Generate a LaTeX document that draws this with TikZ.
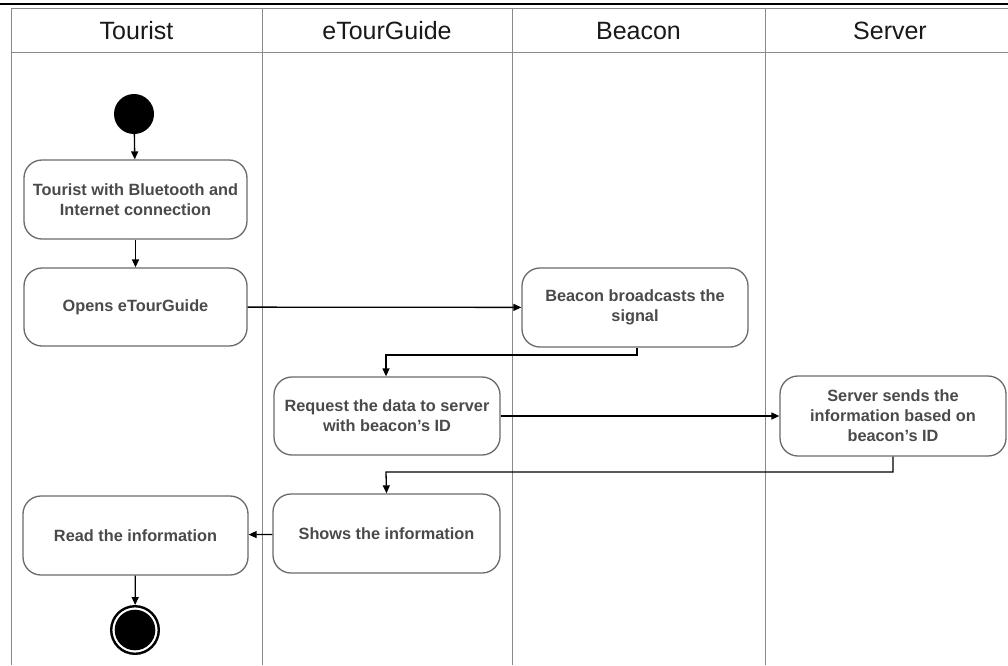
\documentclass[tikz,border=0pt]{standalone}
\usepackage{fontspec}
\setmainfont{Liberation Sans}
\usetikzlibrary{arrows.meta}
\definecolor{laneline}{HTML}{8A8A8A}
\definecolor{boxline}{HTML}{6A6A6A}
\definecolor{boxtext}{HTML}{4A4A4A}
\begin{document}
\begin{tikzpicture}[x=1pt,y=-1pt,
  action/.style={draw=boxline, line width=1.3pt, rounded corners=18pt, fill=white,
    align=center, inner sep=0pt, text=boxtext,
    font=\bfseries\fontsize{16.3}{20}\selectfont},
  lanetitle/.style={font=\fontsize{25}{30}\selectfont, text=black!90, inner sep=0pt},
  flow/.style={draw=black, line width=1.3pt, -{Triangle[length=8pt,width=7pt]}},
  lane/.style={draw=laneline, line width=1pt}
]
\useasboundingbox (0,0) rectangle (1008,665);
\fill[white] (0,0) rectangle (1008,665);

% rule above the table
\draw[line width=2.6pt] (0,4) -- (1008,4);

% swimlane grid
\draw[lane] (11,8) -- (1008,8);
\draw[lane] (11,52) -- (1008,52);
\foreach \xx in {11,262,512,765} \draw[lane] (\xx,8) -- (\xx,665);

% lane titles
\node[lanetitle] (tTourist) at (136.5,31) {Tourist};
\node[lanetitle] (tGuide) at (387,31) {eTourGuide};
\node[lanetitle] (tBeacon) at (638.5,31) {Beacon};
\node[lanetitle] (tServer) at (890,31) {Server};

% start node
\node[circle, fill=black, minimum size=40pt, inner sep=0pt] (start) at (134,114) {};

% actions
\node[action, minimum width=223pt, minimum height=79pt] (b1) at (135.5,199.5)
  {Tourist with Bluetooth and\\Internet connection};
\node[action, minimum width=223pt, minimum height=78pt] (b2) at (135.5,307)
  {Opens eTourGuide};
\node[action, minimum width=226pt, minimum height=79pt] (b3) at (635,307.5)
  {Beacon broadcasts the\\signal};
\node[action, minimum width=226pt, minimum height=78pt] (b4) at (387,416)
  {Request the data to server\\with beacon’s ID};
\node[action, minimum width=226pt, minimum height=80pt] (b5) at (893,416)
  {Server sends the\\information based on\\beacon’s ID};
\node[action, minimum width=227pt, minimum height=79pt] (b6) at (386.5,533.5)
  {Shows the information};
\node[action, minimum width=225pt, minimum height=79pt] (b7) at (135.5,535.5)
  {Read the information};

% final node
\node[circle, draw=black, line width=2.4pt, minimum size=47.6pt, inner sep=0pt] (final) at (135,630) {};
\fill[black] (final.center) circle (20.3pt);

% control flow
\draw[flow] (start) -- (b1);
\draw[flow] (b1) -- (b2);
\draw[flow] (b2) -- (b3);
\draw[flow] ([xshift=2pt]b3.south) |- (386,355) -- ([xshift=-1pt]b4.north);
\draw[flow] (b4) -- (b5);
\draw[flow] (b5.south) |- (386,472) -- (b6.north);
\draw[flow] (b6) -- (b7);
\draw[flow] (b7) -- (final);
\end{tikzpicture}
\end{document}
